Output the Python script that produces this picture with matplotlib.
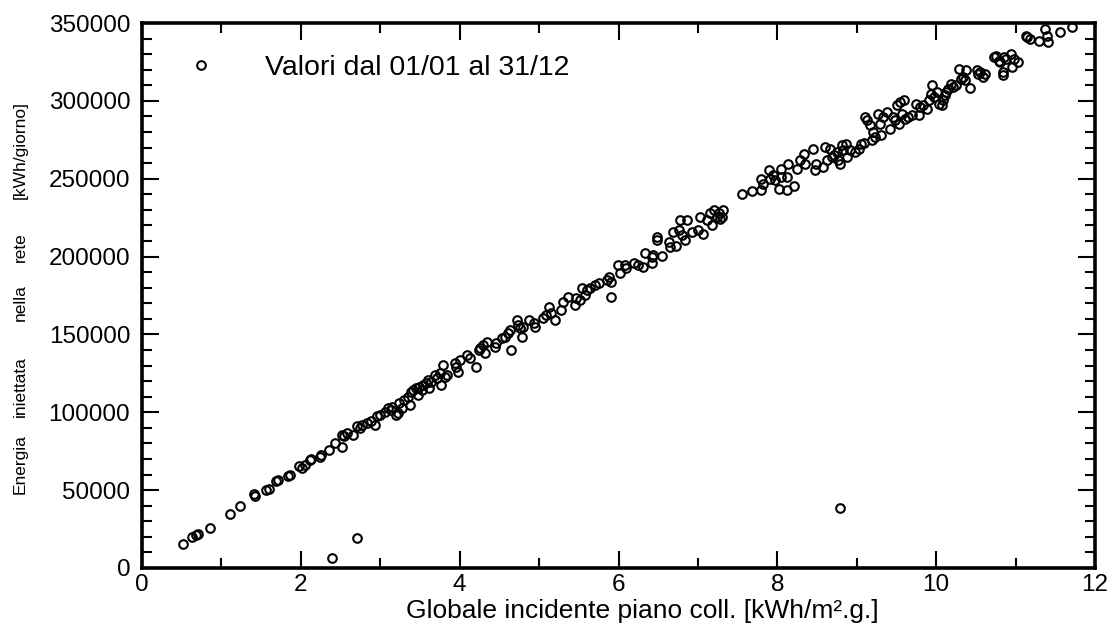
import matplotlib
matplotlib.use("Agg")
import matplotlib.pyplot as plt
from matplotlib.ticker import MultipleLocator

plt.rcParams['font.family'] = ['Liberation Sans', 'DejaVu Sans']

# Daily values: global irradiation on collector plane [kWh/m2.day] vs energy injected [kWh/day]
irr = [
    0.51, 0.63, 0.68, 0.70, 0.86, 1.11, 1.24, 1.41, 1.42, 1.56, 1.60, 1.69, 1.71,
    1.84, 1.86, 1.98, 2.01, 2.05, 2.11, 2.13, 2.26, 2.24, 2.36, 2.43, 2.52, 2.52,
    2.54, 2.58, 2.66, 2.71, 2.75, 2.77, 2.83, 2.88, 2.94, 2.96, 3.00, 3.06, 3.10,
    3.13, 3.15, 3.20, 3.22, 3.24, 3.28, 3.30, 3.35, 3.37, 3.39, 3.41, 3.45, 3.47,
    3.49, 3.52, 3.54, 3.58, 3.60, 3.62, 3.64, 3.69, 3.71, 3.75, 3.77, 3.79, 3.81,
    3.84, 3.94, 3.96, 3.98, 4.01, 4.09, 4.13, 4.20, 4.24, 4.26, 4.30, 4.32, 4.35,
    4.44, 4.46, 4.53, 4.57, 4.61, 4.63, 4.65, 4.72, 4.74, 4.76, 4.78, 4.80, 4.87,
    4.93, 4.95, 5.05, 5.09, 5.13, 5.15, 5.20, 5.28, 5.30, 5.37, 5.45, 5.47, 5.52,
    5.54, 5.58, 5.60, 5.64, 5.71, 5.75, 5.86, 5.88, 5.90, 5.90, 5.99, 6.02, 6.08,
    6.10, 6.19, 6.25, 6.31, 6.33, 6.42, 6.44, 6.42, 6.55, 6.48, 6.48, 6.63, 6.65,
    6.68, 6.72, 6.76, 6.78, 6.80, 6.84, 6.86, 6.92, 7.00, 7.03, 7.07, 7.11, 7.15,
    7.18, 7.20, 7.24, 7.26, 7.28, 7.32, 7.30, 7.56, 7.68, 7.80, 7.80, 7.82, 7.89,
    7.91, 7.95, 7.97, 8.02, 8.04, 8.04, 8.12, 8.12, 8.14, 8.21, 8.25, 8.29, 8.33,
    8.35, 8.45, 8.47, 8.49, 8.58, 8.60, 8.62, 8.66, 8.69, 8.71, 8.75, 8.77, 8.79,
    8.81, 8.83, 8.86, 8.88, 8.92, 8.98, 9.03, 9.05, 9.09, 9.11, 9.13, 9.17, 9.19,
    9.21, 9.23, 9.27, 9.29, 9.31, 9.33, 9.38, 9.42, 9.46, 9.48, 9.51, 9.53, 9.55,
    9.59, 9.57, 9.61, 9.65, 9.70, 9.74, 9.78, 9.80, 9.84, 9.89, 9.91, 9.93, 9.95,
    9.97, 10.01, 10.03, 10.07, 10.09, 10.11, 10.13, 10.15, 10.19, 10.21, 10.25,
    10.29, 10.31, 10.34, 10.36, 10.38, 10.42, 10.51, 10.53, 10.55, 10.59, 10.61,
    10.73, 10.75, 10.79, 10.81, 10.84, 10.84, 10.86, 10.88, 10.94, 10.96, 10.98,
    11.03, 11.13, 11.15, 11.18, 11.30, 11.37, 11.39, 11.41, 11.56, 11.71,
    2.39, 2.71, 8.79,
]
energy = [
    15400, 19700, 21200, 22000, 25900, 34700, 40000, 47500, 46000, 50300, 50900,
    55600, 56700, 59300, 59900, 65200, 64200, 66300, 69100, 70000, 72700, 71600,
    75900, 80200, 78000, 85500, 84500, 86600, 85500, 90900, 89800, 91900, 93000,
    94100, 91900, 97300, 98400, 100500, 102600,
    101600, 103700, 98400, 99400, 105800, 102600, 108000, 110100, 104800, 113300,
    114400, 115500, 111200, 116500, 114400, 117600, 118700, 120800, 115500, 119700,
    124000, 121900, 125100, 117600, 130400, 122900, 124000, 131500, 129300, 126100,
    133600, 136800, 134700, 129300, 140000, 141100, 143200, 137900, 145300,
    142200, 144300, 147500, 148600, 150700, 152800, 140000, 159300, 156100, 153900,
    148600, 155000, 159300, 157100, 155000, 160300, 162500, 167800, 163600, 159300,
    165700, 171000, 174200, 168900, 173200, 172100, 179600, 175300, 178500, 179600,
    181700, 182800, 184900, 187000, 183800, 174200, 194500, 189200, 194500, 192400,
    195600, 194500, 193400, 202000, 199900, 200900, 195600, 200300, 212700, 210500,
    209400, 206200, 215900, 206700, 216900, 223400, 213700, 210500, 223400, 215900,
    216900, 225500, 214800, 223400, 227700, 220200, 229800, 225500, 228000, 224400,
    229800, 225500, 240000, 242200, 242600, 250100, 246900, 255400,
    250100, 252200, 249000, 243700, 256500, 251100, 242600, 251100, 259700, 245200,
    256500, 261800, 265700, 259700, 269300, 255400, 259700, 257500, 270400, 261800,
    269300, 263900, 265000, 267100, 261800, 259700, 271400, 268200, 272500, 263900,
    268200, 267100, 269300, 272500, 272900, 289600, 287500, 284300, 274600, 280000,
    276800, 291700, 285300, 277800, 289600, 292800, 282100, 289600, 287500, 297100,
    285300, 299200, 300300, 291700, 288500, 289600, 290700, 298100, 290700, 296000,
    297100, 294900, 300300, 304600, 309900, 302400, 305600, 298100,
    297100, 300300, 303500, 305600, 307800, 311000, 308800, 309900, 320600, 314200,
    315200, 313100, 319500, 308200, 319500, 317400, 318400, 315200, 317400, 328000,
    329100, 325900, 324800, 318400, 316300, 328000, 327000, 330200, 321600, 327000,
    324800, 341900, 340900, 339800, 338700, 346200, 341900, 337700, 344100, 347300,
    6200, 19500, 38300,
]

x_ticks = [0, 2, 4, 6, 8, 10, 12]
y_ticks = [0, 50000, 100000, 150000, 200000, 250000, 300000, 350000]
legend_label = "Valori dal 01/01 al 31/12"
x_label = "Globale incidente piano coll. [kWh/m².g.]"
y_words = ["Energia", "iniettata", "nella", "rete", "[kWh/giorno]"]

W, H = 1112, 639
fig = plt.figure(figsize=(W / 100, H / 100), dpi=100)
ax = fig.add_axes([142 / W, 1 - 568 / H, (1095 - 142) / W, (568 - 23) / H])

ax.plot(irr, energy, linestyle='none', marker='o', markersize=6.2,
        markerfacecolor='none', markeredgecolor='black', markeredgewidth=1.5,
        label=legend_label, clip_on=True)

ax.set_xlim(0, 12)
ax.set_ylim(0, 350000)
ax.set_xticks(x_ticks)
ax.set_xticklabels([str(t) for t in x_ticks])
ax.set_yticks(y_ticks)
ax.set_yticklabels([str(t) for t in y_ticks])
ax.xaxis.set_minor_locator(MultipleLocator(1))
ax.yaxis.set_minor_locator(MultipleLocator(10000))

for s in ax.spines.values():
    s.set_linewidth(2.6)
ax.tick_params(which='both', direction='in', top=True, right=True, width=1.5,
               labelsize=17.5, colors='black')
ax.tick_params(which='major', length=12)
ax.tick_params(which='minor', length=7.5)
ax.tick_params(axis='y', which='major', pad=8.5)
ax.tick_params(axis='x', which='major', pad=4.5)

fig.text(642 / W, 1 - 611 / H, x_label, ha='center', va='center', fontsize=19)

y_word_pos = [464, 387, 303, 247, 150]
for word, py in zip(y_words, y_word_pos):
    fig.text(20 / W, 1 - py / H, word, rotation=90, ha='center', va='center',
             fontsize=12.5)

ax.legend(loc='center left', bbox_to_anchor=((187 - 142) / 953, (568 - 68) / 545),
          frameon=False, fontsize=20.5, handlelength=1.0, handletextpad=1.74,
          borderpad=0, borderaxespad=0, numpoints=1)

fig.savefig("out.png", dpi=100)
